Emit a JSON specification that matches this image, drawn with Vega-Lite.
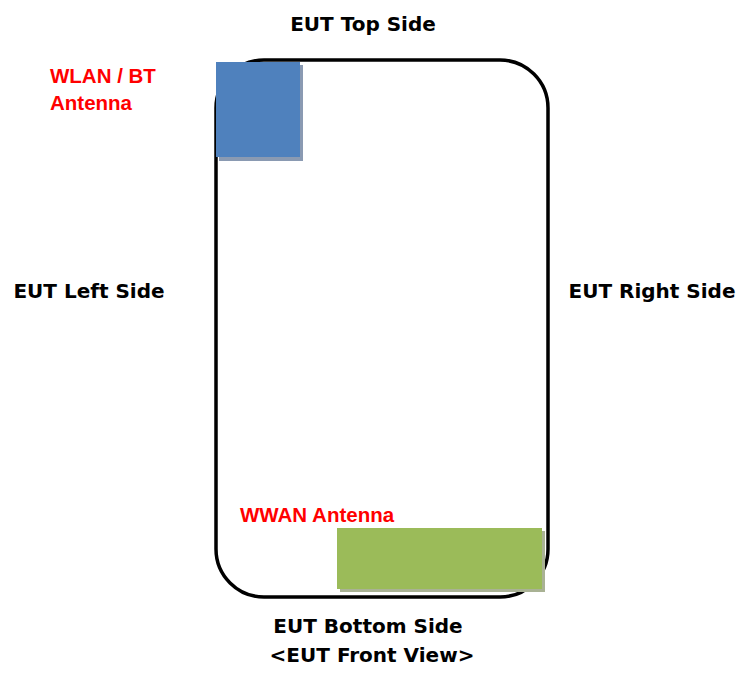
{
  "$schema": "https://vega.github.io/schema/vega-lite/v6.json",
  "width": 743,
  "height": 673,
  "autosize": {"type": "fit", "contains": "padding"},
  "padding": 0,
  "background": "white",
  "config": {"view": {"stroke": null}},
  "datasets": {
    "device": [
      {"part": "EUT body", "x1": 216, "x2": 548, "y1": 60, "y2": 597}
    ],
    "shadows": [
      {"part": "WLAN / BT shadow", "x1": 219, "x2": 303, "y1": 65, "y2": 161},
      {"part": "WWAN shadow", "x1": 340, "x2": 545, "y1": 531, "y2": 592}
    ],
    "antennas": [
      {"part": "WLAN / BT", "x1": 216, "x2": 300, "y1": 62, "y2": 157},
      {"part": "WWAN", "x1": 337, "x2": 542, "y1": 528, "y2": 589}
    ],
    "sides": [
      {"label": "EUT Top Side", "x": 363, "y": 31},
      {"label": "EUT Left Side", "x": 89, "y": 298},
      {"label": "EUT Right Side", "x": 652, "y": 298},
      {"label": "EUT Bottom Side", "x": 368, "y": 633},
      {"label": "<EUT Front View>", "x": 372, "y": 662}
    ],
    "antennaLabels": [
      {"label": "WLAN / BT", "x": 50, "y": 83},
      {"label": "Antenna", "x": 50, "y": 110},
      {"label": "WWAN Antenna", "x": 240, "y": 522}
    ]
  },
  "layer": [
    {
      "data": {"name": "device"},
      "mark": {"type": "rect", "filled": false, "stroke": "black", "strokeWidth": 3.5, "cornerRadius": 48},
      "encoding": {
        "x": {"field": "x1", "type": "quantitative", "scale": {"domain": [0, 743], "nice": false, "zero": false}, "axis": null},
        "x2": {"field": "x2"},
        "y": {"field": "y1", "type": "quantitative", "scale": {"domain": [0, 673], "nice": false, "zero": false, "reverse": true}, "axis": null},
        "y2": {"field": "y2"}
      }
    },
    {
      "data": {"name": "shadows"},
      "mark": {"type": "rect"},
      "encoding": {
        "x": {"field": "x1", "type": "quantitative", "scale": {"domain": [0, 743], "nice": false, "zero": false}, "axis": null},
        "x2": {"field": "x2"},
        "y": {"field": "y1", "type": "quantitative", "scale": {"domain": [0, 673], "nice": false, "zero": false, "reverse": true}, "axis": null},
        "y2": {"field": "y2"},
        "color": {
          "field": "part",
          "type": "nominal",
          "scale": {
            "domain": ["WLAN / BT shadow", "WWAN shadow", "WLAN / BT", "WWAN"],
            "range": ["#8a9ab2", "#a9b294", "#4f81bd", "#9bbb59"]
          },
          "legend": null
        }
      }
    },
    {
      "data": {"name": "antennas"},
      "mark": {"type": "rect"},
      "encoding": {
        "x": {"field": "x1", "type": "quantitative", "scale": {"domain": [0, 743], "nice": false, "zero": false}, "axis": null},
        "x2": {"field": "x2"},
        "y": {"field": "y1", "type": "quantitative", "scale": {"domain": [0, 673], "nice": false, "zero": false, "reverse": true}, "axis": null},
        "y2": {"field": "y2"},
        "color": {
          "field": "part",
          "type": "nominal",
          "scale": {
            "domain": ["WLAN / BT shadow", "WWAN shadow", "WLAN / BT", "WWAN"],
            "range": ["#8a9ab2", "#a9b294", "#4f81bd", "#9bbb59"]
          },
          "legend": null
        }
      }
    },
    {
      "data": {"name": "sides"},
      "mark": {"type": "text", "font": "DejaVu Sans", "fontWeight": "bold", "fontSize": 20, "align": "center", "baseline": "alphabetic", "color": "black"},
      "encoding": {
        "x": {"field": "x", "type": "quantitative", "scale": {"domain": [0, 743], "nice": false, "zero": false}, "axis": null},
        "y": {"field": "y", "type": "quantitative", "scale": {"domain": [0, 673], "nice": false, "zero": false, "reverse": true}, "axis": null},
        "text": {"field": "label"}
      }
    },
    {
      "data": {"name": "antennaLabels"},
      "mark": {"type": "text", "font": "Liberation Sans", "fontWeight": "bold", "fontSize": 20.5, "align": "left", "baseline": "alphabetic", "color": "#ff0000"},
      "encoding": {
        "x": {"field": "x", "type": "quantitative", "scale": {"domain": [0, 743], "nice": false, "zero": false}, "axis": null},
        "y": {"field": "y", "type": "quantitative", "scale": {"domain": [0, 673], "nice": false, "zero": false, "reverse": true}, "axis": null},
        "text": {"field": "label"}
      }
    }
  ]
}
